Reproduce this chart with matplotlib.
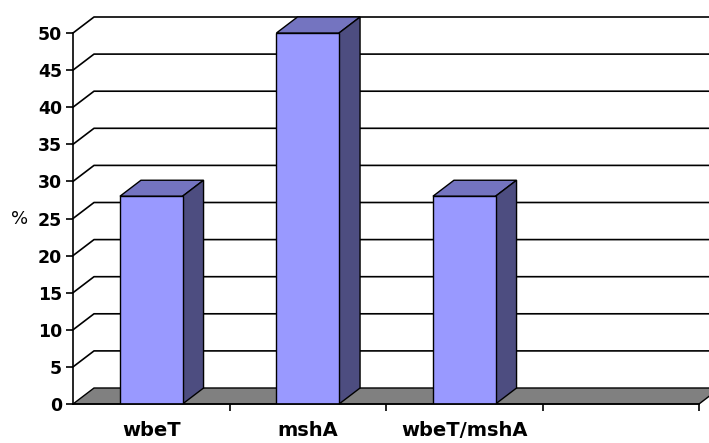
import matplotlib
matplotlib.use("Agg")
import matplotlib.pyplot as plt
from matplotlib.patches import Polygon

categories = ["wbeT", "mshA", "wbeT/mshA"]
values = [28, 50, 28]
n_slots = 4          # excel left an empty 4th category slot
y_ticks = list(range(0, 55, 5))

front_col = "#9999ff"
top_col = "#7474c0"
side_col = "#4d4d80"
floor_col = "#808080"

W, H = 709, 443
fig = plt.figure(figsize=(W / 100, H / 100), dpi=100)
ax = fig.add_axes([73 / W, (H - 404) / H, 626 / W, 371 / H])
ax.set_xlim(0, n_slots)
ax.set_ylim(0, 50)

# depth offset of the fake 3d, in data units
px_x = 626 / n_slots
px_y = 371 / 50
ddx = 21 / px_x
ddy = 16 / px_y

# back wall gridlines
for v in y_ticks[1:]:
    ax.plot([0, ddx, n_slots + 0.3], [v, v + ddy, v + ddy], color="black",
            lw=1.2, clip_on=False, zorder=1)

# floor
floor = Polygon([(0, 0), (n_slots, 0), (n_slots + ddx, ddy), (ddx, ddy)],
                closed=True, facecolor=floor_col, edgecolor="black", lw=1,
                clip_on=False, zorder=2)
ax.add_patch(floor)

# bars
bw = 0.40
xs = [i + 0.5 for i in range(len(categories))]
ax.bar(xs, values, width=bw, color=front_col, edgecolor="black", lw=1,
       zorder=4)
for x, v in zip(xs, values):
    l, r = x - bw / 2, x + bw / 2
    top = Polygon([(l, v), (r, v), (r + ddx, v + ddy), (l + ddx, v + ddy)],
                  closed=True, facecolor=top_col, edgecolor="black", lw=1,
                  clip_on=False, zorder=3)
    side = Polygon([(r, 0), (r + ddx, ddy), (r + ddx, v + ddy), (r, v)],
                   closed=True, facecolor=side_col, edgecolor="black", lw=1,
                   clip_on=False, zorder=3)
    ax.add_patch(top)
    ax.add_patch(side)

for s in ["top", "right"]:
    ax.spines[s].set_visible(False)
ax.spines["left"].set_linewidth(1.2)
ax.spines["bottom"].set_linewidth(1.2)
ax.spines["left"].set_zorder(5)
ax.spines["bottom"].set_zorder(5)

ax.set_yticks(y_ticks)
ax.set_yticklabels([str(t) for t in y_ticks], fontsize=12.5, fontweight="bold")
ax.tick_params(axis="y", length=5, width=1.2, pad=3)

ax.set_xticks(range(1, n_slots + 1))
ax.set_xticklabels([])
ax.tick_params(axis="x", which="major", length=5, width=1.2)
ax.set_xticks(xs, minor=True)
ax.set_xticklabels(categories, minor=True, fontsize=14, fontweight="bold")
ax.tick_params(axis="x", which="minor", length=0, pad=12)

ax.set_ylabel("%", rotation=0, fontsize=13, va="center", ha="center")
ax.yaxis.set_label_coords(-0.085, 0.5)

fig.savefig("out.png", dpi=100)
